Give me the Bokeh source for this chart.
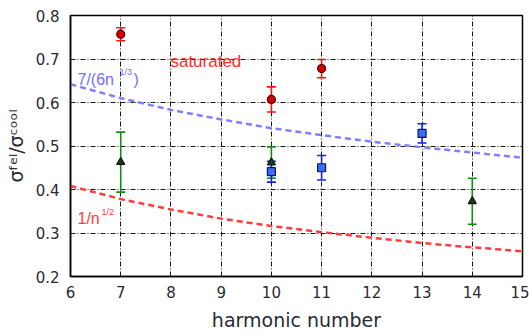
from bokeh.plotting import figure
from bokeh.models import ColumnDataSource, Whisker, TeeHead, FixedTicker, NumeralTickFormatter, Range1d
from bokeh.core.properties import value
from bokeh.embed import file_html
from bokeh.resources import INLINE

# measured ratios with error bars, by harmonic number
sat_n = [7, 10, 11]
sat_y = [0.757, 0.607, 0.678]
sat_err = [0.015, 0.029, 0.021]

blue_n = [10, 11, 13]
blue_y = [0.441, 0.450, 0.529]
blue_err = [0.024, 0.028, 0.022]

green_n = [7, 10, 14]
green_y = [0.463, 0.462, 0.373]
green_err = [0.069, 0.036, 0.053]

# model curves read at each harmonic number
curve_n = [6, 7, 8, 9, 10, 11, 12, 13, 14, 15]
curve_cube = [0.642, 0.610, 0.583, 0.561, 0.541, 0.525, 0.510, 0.497, 0.485, 0.473]
curve_sqrt = [0.408, 0.378, 0.354, 0.333, 0.316, 0.302, 0.289, 0.277, 0.267, 0.258]

x_ticks = [6, 7, 8, 9, 10, 11, 12, 13, 14, 15]
y_ticks = [0.2, 0.3, 0.4, 0.5, 0.6, 0.7, 0.8]

p = figure(width=529, height=333, output_backend="svg", toolbar_location=None,
           x_range=Range1d(6, 15), y_range=Range1d(0.2, 0.8),
           min_border_left=70, min_border_right=7, min_border_top=15, min_border_bottom=51)
p.background_fill_color = "white"
p.border_fill_color = "white"
p.outline_line_color = "black"
p.outline_line_width = 1.5

p.xaxis.ticker = FixedTicker(ticks=x_ticks)
p.yaxis.ticker = FixedTicker(ticks=y_ticks)
p.yaxis.formatter = NumeralTickFormatter(format="0.0")

for ax in (p.xaxis[0], p.yaxis[0]):
    ax.axis_line_color = "black"
    ax.axis_line_width = 1.5
    ax.major_tick_line_color = None
    ax.minor_tick_line_color = None
    ax.major_label_text_font = "DejaVu Sans"
    ax.major_label_text_font_size = "15px"
    ax.major_label_text_color = "#2a2a35"
    ax.axis_label_text_font = "DejaVu Sans"
    ax.axis_label_text_font_style = "normal"
    ax.axis_label_text_color = "#2a2a35"

p.xaxis.major_label_standoff = 3
p.yaxis.major_label_standoff = 5
p.xaxis.axis_label = "harmonic number"
p.xaxis.axis_label_text_font_size = "19px"
p.xaxis.axis_label_standoff = 8
p.yaxis.axis_label = "σᶠᵉˡ/σᶜᵒᵒˡ"
p.yaxis.axis_label_text_font_size = "19px"
p.yaxis.axis_label_standoff = 6

for g in (p.xgrid[0], p.ygrid[0]):
    g.grid_line_color = "black"
    g.grid_line_alpha = 0.9
    g.grid_line_width = 1
    g.grid_line_dash = "5 2 1 2"

# model curves
p.line(curve_n, curve_cube, line_color="#7f7fff", line_width=2.5, line_dash="6 4")
p.line(curve_n, curve_sqrt, line_color="#ff3b3b", line_width=2.5, line_dash="6 4")


def series(ns, ys, errs, bar_color, marker, fill, outline):
    src = ColumnDataSource(dict(
        x=ns, y=ys,
        lo=[a - b for a, b in zip(ys, errs)],
        hi=[a + b for a, b in zip(ys, errs)],
    ))
    w = Whisker(source=src, base="x", upper="hi", lower="lo",
                line_color=bar_color, line_width=1.6,
                upper_head=TeeHead(size=9, line_color=bar_color, line_width=1.6),
                lower_head=TeeHead(size=9, line_color=bar_color, line_width=1.6))
    p.add_layout(w)
    p.scatter("x", "y", source=src, marker=marker, size=8,
              fill_color=fill, line_color=outline, line_width=1.2)


series(sat_n, sat_y, sat_err, "#ff1010", "circle", "#d80000", "#500000")
series(green_n, green_y, green_err, "#109010", "triangle", "#1e3a1e", "#0a1a0a")
series(blue_n, blue_y, blue_err, "#1020ff", "square", "#3a6cff", "#101a40")

# annotations
p.text(x=[7.99], y=[0.695], text=["saturated"], text_color="#ff2a2a",
       text_font=value("Liberation Sans"), text_font_size="17px",
       text_baseline="alphabetic")

p.text(x=[6.14], y=[0.654], text=["7/(6n"], text_color="#7070ff",
       text_font=value("Liberation Sans"), text_font_size="16px",
       text_baseline="alphabetic")
p.text(x=[6.14], y=[0.654], text=["1/3"], text_color="#7070ff", x_offset=42, y_offset=-7,
       text_font=value("Liberation Sans"), text_font_size="9px",
       text_baseline="alphabetic")
p.text(x=[6.14], y=[0.654], text=[")"], text_color="#7070ff", x_offset=56,
       text_font=value("Liberation Sans"), text_font_size="16px",
       text_baseline="alphabetic")

p.text(x=[6.14], y=[0.333], text=["1/n"], text_color="#ff3b3b",
       text_font=value("Liberation Sans"), text_font_size="16px",
       text_baseline="alphabetic")
p.text(x=[6.14], y=[0.333], text=["1/2"], text_color="#ff3b3b", x_offset=24, y_offset=-7,
       text_font=value("Liberation Sans"), text_font_size="9px",
       text_baseline="alphabetic")

open("out.html", "w").write(file_html(p, INLINE))
